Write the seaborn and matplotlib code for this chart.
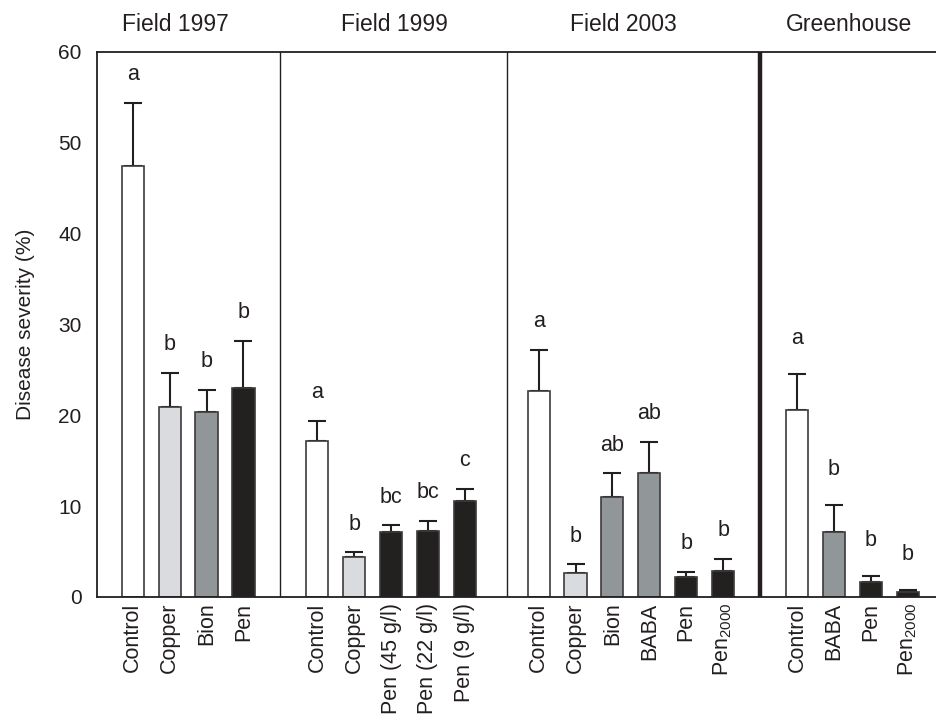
import matplotlib
matplotlib.use("Agg")
import matplotlib.pyplot as plt
import numpy as np
import pandas as pd
import seaborn as sns

# data
groups = ["Field 1997", "Field 1999", "Field 2003", "Greenhouse"]

labels_1997 = ["Control", "Copper", "Bion", "Pen"]
mean_1997 = [47.4, 20.9, 20.4, 23.0]
err_1997 = [7.0, 3.8, 2.4, 5.2]
letters_1997 = ["a", "b", "b", "b"]
kind_1997 = ["control", "copper", "resist", "pen"]

labels_1999 = ["Control", "Copper", "Pen (45 g/l)", "Pen (22 g/l)", "Pen (9 g/l)"]
mean_1999 = [17.2, 4.4, 7.1, 7.3, 10.6]
err_1999 = [2.2, 0.5, 0.8, 1.1, 1.3]
letters_1999 = ["a", "b", "bc", "bc", "c"]
kind_1999 = ["control", "copper", "pen", "pen", "pen"]

labels_2003 = ["Control", "Copper", "Bion", "BABA", "Pen", "Pen$_{2000}$"]
mean_2003 = [22.7, 2.6, 11.0, 13.6, 2.2, 2.9]
err_2003 = [4.5, 1.0, 2.6, 3.5, 0.6, 1.3]
letters_2003 = ["a", "b", "ab", "ab", "b", "b"]
kind_2003 = ["control", "copper", "resist", "resist", "pen", "pen"]

labels_gh = ["Control", "BABA", "Pen", "Pen$_{2000}$"]
mean_gh = [20.6, 7.1, 1.6, 0.5]
err_gh = [3.9, 3.0, 0.7, 0.3]
letters_gh = ["a", "b", "b", "b"]
kind_gh = ["control", "resist", "pen", "pen"]

palette = {"control": "#ffffff", "copper": "#d9dadf",
           "resist": "#8f969b", "pen": "#231f20"}
ink = "#231f20"

sns.set_theme(style="white")
plt.rcParams["font.family"] = ["Liberation Sans", "DejaVu Sans"]
plt.rcParams["mathtext.default"] = "regular"

# build table, one empty slot between groups
rows = []
slot = 0
starts = []
all_sets = [
    (labels_1997, mean_1997, err_1997, letters_1997, kind_1997),
    (labels_1999, mean_1999, err_1999, letters_1999, kind_1999),
    (labels_2003, mean_2003, err_2003, letters_2003, kind_2003),
    (labels_gh, mean_gh, err_gh, letters_gh, kind_gh),
]
for g, (labs, ms, es, lets, ks) in zip(groups, all_sets):
    starts.append(slot)
    for lab, m, e, l, k in zip(labs, ms, es, lets, ks):
        rows.append(dict(group=g, label=lab, pos=slot, value=m, err=e, letter=l, kind=k))
        slot += 1
    slot += 1
df = pd.DataFrame(rows)

fig = plt.figure(figsize=(9.36, 7.23), dpi=100)
ax = fig.add_axes([0.1036, 0.1743, 0.8964, 0.7538])

ax.errorbar(df["pos"], df["value"], yerr=[np.zeros(len(df)), df["err"]],
            fmt="none", ecolor=ink, elinewidth=1.5, capsize=6.8, capthick=1.5, zorder=1)
sns.barplot(data=df, x="pos", y="value", hue="kind", palette=palette,
            native_scale=True, width=0.6, dodge=False, errorbar=None,
            edgecolor="#3c3a3b", linewidth=1.2, legend=False, ax=ax, zorder=2)

# significance letters, a little higher in the greenhouse panel
for _, r in df.iterrows():
    off = 3.3 if r["group"] == "Greenhouse" else 2.5
    ax.text(r["pos"], r["value"] + r["err"] + off, r["letter"], ha="center",
            va="baseline", fontsize=15.5, color=ink)

# group dividers
ax.axvline(starts[1] - 1, color=ink, lw=1.0)
ax.axvline(starts[2] - 0.85, color=ink, lw=1.0)
ax.axvline(starts[3] - 1, color=ink, lw=3.2)

header_x = [1.15, 7.1, 13.3, 19.4]
for g, hx in zip(groups, header_x):
    ax.text(hx, 63.0, g, ha="center", va="center", fontsize=16.5, color=ink, clip_on=False)

ax.set_xlim(-0.97, 21.77)
ax.set_ylim(0, 60)
ax.set_xticks(df["pos"])
ax.set_xticklabels(df["label"], rotation=90, fontsize=15.5, color=ink)
ax.set_yticks([0, 10, 20, 30, 40, 50, 60])
ax.tick_params(axis="y", direction="in", length=8, width=1.2, pad=11, labelsize=15,
               colors=ink)
ax.tick_params(axis="x", length=0, pad=4)
ax.set_xlabel("")
ax.set_ylabel("Disease severity (%)", fontsize=15, color=ink, labelpad=17)

for side in ["left", "bottom", "top"]:
    ax.spines[side].set_color(ink)
    ax.spines[side].set_linewidth(1.3)
ax.spines["right"].set_visible(False)

fig.savefig("out.png", dpi=100)
